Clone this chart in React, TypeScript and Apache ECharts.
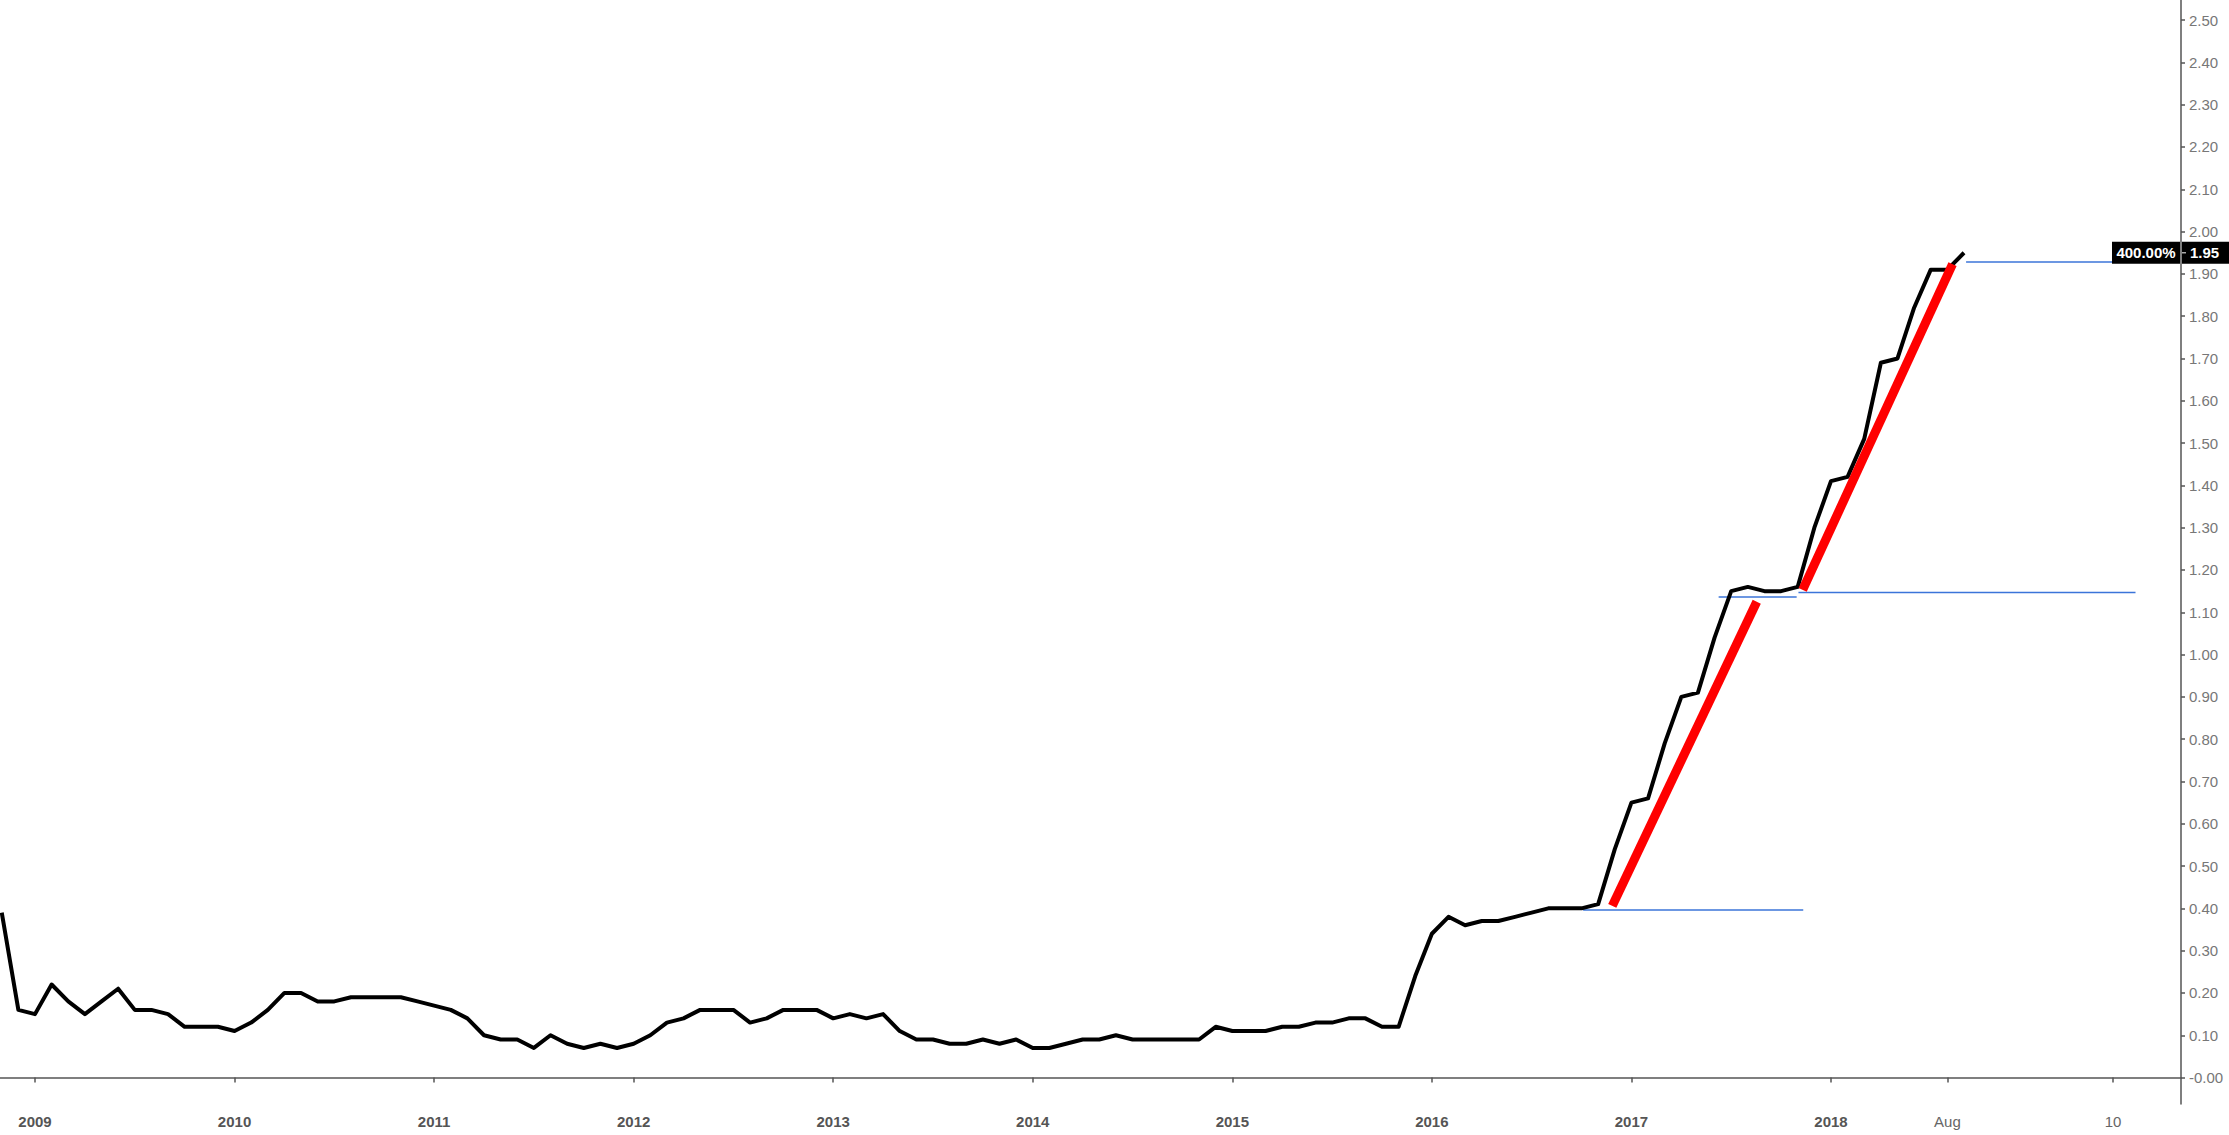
import React, { useEffect, useRef } from "react";
import * as echarts from "echarts";

// Monthly series, first point = Nov 2008
const startYear = 2008;
const startMonth = 11;
const rates = [
  // 2008 Nov-Dec
  0.39, 0.16,
  // 2009
  0.15, 0.22, 0.18, 0.15, 0.18, 0.21, 0.16, 0.16, 0.15, 0.12, 0.12, 0.12,
  // 2010
  0.11, 0.13, 0.16, 0.2, 0.2, 0.18, 0.18, 0.19, 0.19, 0.19, 0.19, 0.18,
  // 2011
  0.17, 0.16, 0.14, 0.1, 0.09, 0.09, 0.07, 0.1, 0.08, 0.07, 0.08, 0.07,
  // 2012
  0.08, 0.1, 0.13, 0.14, 0.16, 0.16, 0.16, 0.13, 0.14, 0.16, 0.16, 0.16,
  // 2013
  0.14, 0.15, 0.14, 0.15, 0.11, 0.09, 0.09, 0.08, 0.08, 0.09, 0.08, 0.09,
  // 2014
  0.07, 0.07, 0.08, 0.09, 0.09, 0.1, 0.09, 0.09, 0.09, 0.09, 0.09, 0.12,
  // 2015
  0.11, 0.11, 0.11, 0.12, 0.12, 0.13, 0.13, 0.14, 0.14, 0.12, 0.12, 0.24,
  // 2016
  0.34, 0.38, 0.36, 0.37, 0.37, 0.38, 0.39, 0.4, 0.4, 0.4, 0.41, 0.54,
  // 2017
  0.65, 0.66, 0.79, 0.9, 0.91, 1.04, 1.15, 1.16, 1.15, 1.15, 1.16, 1.3,
  // 2018
  1.41, 1.42, 1.51, 1.69, 1.7, 1.82, 1.91, 1.91, 1.95,
];

const yTickValues = [
  0, 0.1, 0.2, 0.3, 0.4, 0.5, 0.6, 0.7, 0.8, 0.9, 1.0, 1.1, 1.2, 1.3, 1.4,
  1.5, 1.6, 1.7, 1.8, 1.9, 2.0, 2.1, 2.2, 2.3, 2.4, 2.5,
];
const xTickValues = [
  2009, 2010, 2011, 2012, 2013, 2014, 2015, 2016, 2017, 2018, 2018.5833,
  2019.4134,
];
const xTickLabels = [
  "2009", "2010", "2011", "2012", "2013", "2014", "2015", "2016", "2017",
  "2018", "Aug", "10",
];
const xTickIsYear = [
  true, true, true, true, true, true, true, true, true, true, false, false,
];

// Drawing-tool annotations (in data coordinates: [decimal year, value])
const blueLines = [
  [[2016.758, 0.396], [2017.861, 0.396]],
  [[2017.437, 1.136], [2017.828, 1.136]],
  [[2017.837, 1.147], [2019.526, 1.147]],
  [[2018.677, 1.928], [2019.526, 1.928]],
];
const redLines = [
  [[2016.904, 0.406], [2017.628, 1.125]],
  [[2017.858, 1.153], [2018.609, 1.923]],
];
const lastValueLabel = "1.95";
const lastValue = 1.95;
const changeLabel = "400.00%";

const xMin = 2008.8246;
const xMax = 2019.754;
const yMin = -0.0625;
const yMax = 2.5475;

const FONT = 'Arial, "Liberation Sans", sans-serif';

export default function App() {
  const ref = useRef<HTMLDivElement>(null);

  useEffect(() => {
    if (!ref.current) return;
    const chart = echarts.init(ref.current, undefined, { renderer: "svg" });

    const mainData = rates.map((v, i) => [
      startYear + (startMonth - 1 + i) / 12,
      v,
    ]);

    const series: any[] = [];
    blueLines.forEach((seg) => {
      series.push({
        type: "line",
        data: seg,
        showSymbol: false,
        silent: true,
        z: 1,
        lineStyle: { color: "#3b74d9", width: 1.5 },
      });
    });
    series.push({
      type: "line",
      data: mainData,
      showSymbol: false,
      z: 2,
      lineStyle: { color: "#000000", width: 4, join: "round" },
    });
    redLines.forEach((seg) => {
      series.push({
        type: "line",
        data: seg,
        showSymbol: false,
        silent: true,
        z: 3,
        lineStyle: { color: "#ff0000", width: 9, cap: "butt" },
      });
    });

    const labelFor = (v: number) => {
      let best = 0;
      let bd = Infinity;
      xTickValues.forEach((t, i) => {
        const d = Math.abs(t - v);
        if (d < bd) {
          bd = d;
          best = i;
        }
      });
      return xTickIsYear[best]
        ? "{y|" + xTickLabels[best] + "}"
        : "{m|" + xTickLabels[best] + "}";
    };

    chart.setOption({
      animation: false,
      backgroundColor: "#ffffff",
      grid: { left: 0, right: 48, top: 0, bottom: 31, containLabel: false },
      xAxis: {
        type: "value",
        min: xMin,
        max: xMax,
        splitLine: { show: false },
        axisLine: { show: true, lineStyle: { color: "#555", width: 1.5 } },
        axisTick: {
          show: true,
          length: 5,
          customValues: xTickValues,
          lineStyle: { color: "#555", width: 1.5 },
        },
        axisLabel: {
          customValues: xTickValues,
          margin: 10,
          formatter: (v: number) => labelFor(v),
          rich: {
            y: {
              fontFamily: FONT,
              fontSize: 15,
              fontWeight: "bold",
              color: "#555",
            },
            m: {
              fontFamily: FONT,
              fontSize: 15,
              color: "#666",
            },
          },
        },
      },
      yAxis: {
        type: "value",
        position: "right",
        min: yMin,
        max: yMax,
        splitLine: { show: false },
        axisLine: { show: true, lineStyle: { color: "#555", width: 1.5 } },
        axisTick: {
          show: true,
          length: 4,
          customValues: yTickValues,
          lineStyle: { color: "#555", width: 1.5 },
        },
        axisLabel: {
          customValues: yTickValues,
          margin: 8,
          fontFamily: FONT,
          fontSize: 15,
          color: "#777",
          formatter: (v: number) =>
            Math.abs(v) < 1e-6 ? "-0.00" : v.toFixed(2),
        },
      },
      series,
    });

    const p = chart.convertToPixel({ xAxisIndex: 0, yAxisIndex: 0 }, [
      xMax,
      lastValue,
    ]) as number[];
    const ax = p[0];
    const py = p[1];
    const W = 2229;
    chart.setOption({
      graphic: [
        {
          type: "rect",
          z: 100,
          shape: { x: ax - 69, y: py - 11, width: 68, height: 22 },
          style: { fill: "#000" },
        },
        {
          type: "text",
          z: 101,
          x: ax - 35,
          y: py,
          style: {
            text: changeLabel,
            fill: "#fff",
            font: "bold 15px " + FONT,
            align: "center",
            verticalAlign: "middle",
          },
        },
        {
          type: "rect",
          z: 100,
          shape: { x: ax + 1, y: py - 11, width: W - ax - 1, height: 22 },
          style: { fill: "#000" },
        },
        {
          type: "line",
          z: 101,
          shape: { x1: ax + 1, y1: py, x2: ax + 5, y2: py },
          style: { stroke: "#aaa", lineWidth: 1.5 },
        },
        {
          type: "text",
          z: 101,
          x: ax + 9,
          y: py,
          style: {
            text: lastValueLabel,
            fill: "#fff",
            font: "bold 15px " + FONT,
            align: "left",
            verticalAlign: "middle",
          },
        },
      ],
    });

    return () => {
      chart.dispose();
    };
  }, []);

  return (
    <div
      ref={ref}
      style={{
        position: "absolute",
        left: 0,
        top: 0,
        width: 2229,
        height: 1135,
        background: "#fff",
      }}
    />
  );
}
